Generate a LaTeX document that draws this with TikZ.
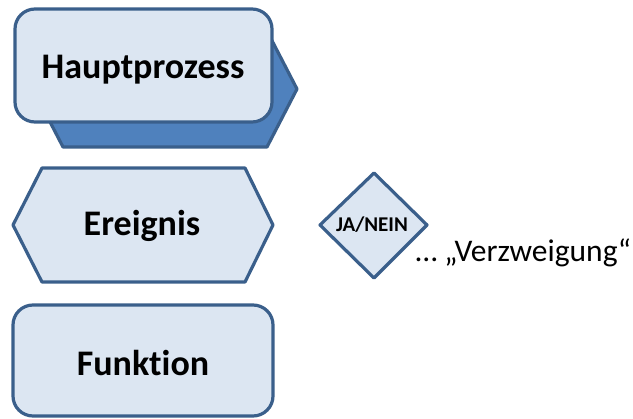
\documentclass[tikz,border=0pt]{standalone}
\usepackage{fontspec}
\setmainfont{Carlito}[Ligatures=NoCommon]
\usetikzlibrary{shapes.geometric}
\definecolor{boxfill}{HTML}{DCE6F2}
\definecolor{boxline}{HTML}{3A5F8B}
\definecolor{backfill}{HTML}{4F81BD}
\begin{document}
\begin{tikzpicture}[x=1pt,y=-1pt,
  shapeline/.style={draw=boxline,line width=3.2pt,line join=round},
  lightshape/.style={shapeline,fill=boxfill},
  bigtext/.style={font=\fontsize{36}{42}\selectfont\bfseries}]
\useasboundingbox (0,0) rectangle (633,419);
% Hauptprozess back shape
\draw[shapeline,fill=backfill] (33,89) -- (63,31) -- (267,31) -- (297,89) -- (267,147) -- (63,147) -- cycle;
\draw[lightshape,rounded corners=20pt] (15,9) rectangle (272,122);
\node[bigtext] (haupt) at (143,70) {Hauptprozess};
% Ereignis
\draw[lightshape] (13,225) -- (42,168) -- (245,168) -- (273,225) -- (245,282) -- (42,282) -- cycle;
\node[bigtext] (ereignis) at (142,226) {Ereignis};
% Funktion
\draw[lightshape,rounded corners=20pt] (13,305) rectangle (273,416);
\node[bigtext] (funktion) at (143,363) {Funktion};
% Verzweigung
\draw[lightshape] (320,225) -- (374,173) -- (427,225) -- (374,278) -- cycle;
\node[font=\fontsize{21}{24}\selectfont\bfseries] (janein) at (372,225) {JA/NEIN};
\node[font=\fontsize{31.5}{36}\selectfont,anchor=west] (verz) at (412,253) {… „Verzweigung“};
\end{tikzpicture}
\end{document}
